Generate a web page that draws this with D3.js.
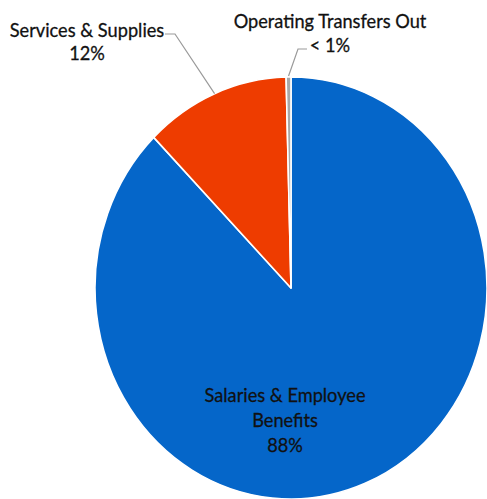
<!DOCTYPE html>
<html>
<head>
<meta charset="utf-8">
<script src="https://cdn.jsdelivr.net/npm/d3@7"></script>
<style>
  html, body { margin: 0; padding: 0; background: #ffffff; }
  svg { display: block; }
  text { font-family: Lato, "Open Sans", sans-serif; fill: #111111; stroke: #111111; stroke-width: 0.3px; }
</style>
</head>
<body>
<svg id="chart" width="487" height="499"></svg>
<script>
// Expenditure shares, in drawing order (clockwise from 12 o'clock)
const categories = ["Salaries & Employee Benefits", "Services & Supplies", "Operating Transfers Out"];
const shares = [88, 12, 0.4];
const shareLabels = ["88%", "12%", "< 1%"];
const nameLines = [["Salaries & Employee", "Benefits"], ["Services & Supplies"], ["Operating Transfers Out"]];
const sliceColors = ["#0566C9", "#EE3C00", "#A8A8A8"];

const W = 487, H = 499;
const cx = 291, cy = 288;
const R = 211;            // vertical radius
const sx = 196 / 211;     // horizontal squeeze of the whole drawing
const fontSize = 19.6;

const svg = d3.select("#chart");

const pie = d3.pie().sort(null).value(d => d.value);
const arcs = pie(categories.map((c, i) => ({ name: c, value: shares[i], i })));
const arc = d3.arc().innerRadius(0).outerRadius(R);
const edgeArc = d3.arc().innerRadius(R).outerRadius(R);

const color = d3.scaleOrdinal().domain(categories).range(sliceColors);

const pieG = svg.append("g")
  .attr("transform", `translate(${cx},${cy}) scale(${sx},1)`);

pieG.selectAll("path")
  .data(arcs)
  .join("path")
  .attr("d", arc)
  .attr("fill", d => color(d.data.name))
  .attr("stroke", "#ffffff")
  .attr("stroke-width", 1.6)
  .attr("stroke-linejoin", "round")
  .attr("vector-effect", "non-scaling-stroke");

// screen position of a point on the rim at a slice's mid angle
function rimPoint(d) {
  const [x, y] = edgeArc.centroid(d);
  return [cx + x * sx, cy + y];
}

function drawLabel(lines, x, y0, step) {
  const g = svg.append("g").attr("transform", `translate(${x},${y0}) scale(${sx},1)`);
  lines.forEach((t, k) => {
    g.append("text")
      .attr("x", 0)
      .attr("y", k * step)
      .attr("text-anchor", "middle")
      .attr("font-size", fontSize)
      .text(t);
  });
}

// Salaries & Employee Benefits: inside the slice
drawLabel([...nameLines[0], shareLabels[0]], 285, 402, 25);

// Services & Supplies: outside, with leader line
drawLabel([...nameLines[1], shareLabels[1]], 87, 37, 23.5);
// Operating Transfers Out: outside, with leader line
drawLabel([...nameLines[2], shareLabels[2]], 330, 28, 24);

const leader = d3.line();
const sP = rimPoint(arcs[1]);
svg.append("path")
  .attr("d", leader([[165, 34], [175, 34], sP]))
  .attr("fill", "none")
  .attr("stroke", "#9a9a9a")
  .attr("stroke-width", 1.2);

const oP = rimPoint(arcs[2]);
svg.append("path")
  .attr("d", leader([[307, 49], [298, 49], [oP[0], oP[1] - 1]]))
  .attr("fill", "none")
  .attr("stroke", "#9a9a9a")
  .attr("stroke-width", 1.2);
</script>
</body>
</html>
